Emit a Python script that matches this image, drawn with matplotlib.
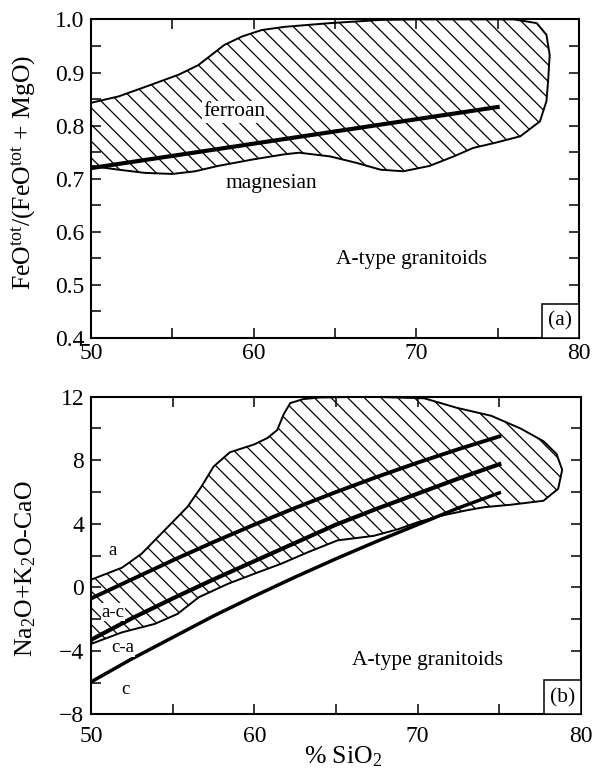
import matplotlib
matplotlib.use('Agg')
import matplotlib.pyplot as plt
from matplotlib.patches import Rectangle
from matplotlib.ticker import MultipleLocator

plt.rcParams['font.family'] = ['Liberation Serif', 'DejaVu Serif']
plt.rcParams['mathtext.fontset'] = 'custom'
plt.rcParams['mathtext.rm'] = 'Liberation Serif'
plt.rcParams['mathtext.it'] = 'Liberation Serif:italic'
plt.rcParams['hatch.linewidth'] = 0.9

# (a) Fe-number field of A-type granitoids
fe_field_sio2 = [50, 51.7, 53.7, 55.4, 56.6, 57.4, 58.2, 59.3, 60.5, 61.9, 64.7, 67.8,
                 70.0, 76.0, 77.4, 78.0, 78.2, 78.1, 78.0, 77.6, 76.4, 74.9, 73.5, 72.3,
                 70.8, 69.2, 67.8, 66.3, 64.7, 62.8, 61.9, 59.9, 57.8, 56.4, 55.0, 53.3,
                 51.7, 50]
fe_field_fe = [0.843, 0.855, 0.877, 0.896, 0.914, 0.933, 0.952, 0.968, 0.980, 0.986, 0.993, 0.999,
               1.0, 1.0, 0.993, 0.971, 0.933, 0.883, 0.846, 0.808, 0.780, 0.768, 0.758, 0.742,
               0.724, 0.714, 0.717, 0.730, 0.742, 0.749, 0.746, 0.736, 0.724, 0.714, 0.709, 0.711,
               0.717, 0.724]
# ferroan / magnesian divide
fe_line_sio2 = [50, 75]
fe_line_fe = [0.72, 0.835]

# (b) MALI field of A-type granitoids
mali_field_sio2 = [50, 51.9, 53.1, 53.9, 54.9, 55.9, 56.75, 57.5, 58.5, 60.0, 60.8, 61.4,
                   61.8, 62.2, 63.0, 64.0, 67.0, 70.4, 72.4, 74.5, 76.3, 77.7, 78.5, 78.85,
                   78.6, 77.7, 75.7, 74.1, 73.0, 71.4, 70.0, 68.8, 67.3, 65.1, 63.3, 61.65,
                   60.0, 58.4, 56.6, 55.3, 53.9, 51.9, 50]
mali_field_val = [0.48, 1.24, 2.12, 2.96, 4.01, 5.06, 6.32, 7.6, 8.5, 9.0, 9.4, 9.9,
                  10.9, 11.6, 11.85, 11.95, 12.0, 11.9, 11.3, 10.8, 10.0, 9.2, 8.4, 7.4,
                  6.2, 5.45, 5.2, 5.05, 4.85, 4.5, 4.1, 3.66, 3.24, 2.96, 2.22, 1.49,
                  0.86, 0.23, -0.62, -1.67, -2.3, -2.83, -3.56]

# alkalic / alkali-calcic / calc-alkalic / calcic boundaries
bound_sio2 = [50, 52.5, 55, 57.5, 60, 62.5, 65, 67.5, 70, 72.5, 75]
bound_a_ac = [-0.7, 0.5, 1.7, 2.85, 3.95, 5.0, 6.0, 6.95, 7.85, 8.7, 9.5]
bound_ac_ca = [-3.3, -1.95, -0.7, 0.5, 1.65, 2.8, 3.95, 4.95, 5.9, 6.85, 7.75]
bound_ca_c = [-5.95, -4.5, -3.15, -1.8, -0.55, 0.65, 1.8, 2.9, 3.95, 5.0, 5.95]

fig = plt.figure(figsize=(5.94, 7.73), dpi=100)
ax1 = fig.add_axes([0.1532, 0.5627, 0.8215, 0.4122])
ax2 = fig.add_axes([0.1532, 0.0757, 0.8249, 0.4111])


def style_axes(ax, xpad):
    ax.set_xlim(50, 80)
    ax.xaxis.set_major_locator(MultipleLocator(10))
    ax.xaxis.set_minor_locator(MultipleLocator(5))
    ax.tick_params(which='both', direction='in', top=True, right=True,
                   length=7.5, width=1.1, labelsize=17)
    ax.tick_params(axis='x', pad=xpad)
    ax.tick_params(axis='y', pad=5)
    for s in ax.spines.values():
        s.set_linewidth(1.5)


def corner_box(ax, label):
    w, h = 0.076, 0.107
    ax.add_patch(Rectangle((1 - w, 0), w, h, transform=ax.transAxes,
                           facecolor='white', edgecolor='black', linewidth=1.1, zorder=5))
    ax.text(1 - w / 2, h / 2, label, transform=ax.transAxes, ha='center', va='center',
            fontsize=15.5, zorder=6)


# ---- (a)
ax1.fill(fe_field_sio2, fe_field_fe, facecolor='none', edgecolor='black',
         hatch='\\\\', linewidth=1.4, zorder=2)
ax1.plot(fe_line_sio2, fe_line_fe, color='black', linewidth=3.0, zorder=3)
ax1.set_ylim(0.4, 1.0)
ax1.yaxis.set_major_locator(MultipleLocator(0.1))
ax1.yaxis.set_minor_locator(MultipleLocator(0.05))
ax1.yaxis.set_major_formatter(lambda v, p: f'{v:.1f}')
style_axes(ax1, 3.5)
ax1.set_ylabel(r'FeO$^{\mathrm{tot}}$/(FeO$^{\mathrm{tot}}$ + MgO)', fontsize=18.5)
ax1.yaxis.set_label_coords(-0.108, 0.52)
ax1.text(58.8, 0.826, 'ferroan', fontsize=15.5, ha='center', va='center', zorder=4,
         bbox=dict(facecolor='white', edgecolor='none', pad=1))
ax1.text(61.1, 0.691, 'magnesian', fontsize=15.5, ha='center', va='center')
ax1.text(69.7, 0.547, 'A-type granitoids', fontsize=15.5, ha='center', va='center')
corner_box(ax1, '(a)')

# ---- (b)
ax2.fill(mali_field_sio2, mali_field_val, facecolor='none', edgecolor='black',
         hatch='\\\\', linewidth=1.4, zorder=2)
ax2.plot(bound_sio2, bound_a_ac, color='black', linewidth=2.8, zorder=3)
ax2.plot(bound_sio2, bound_ac_ca, color='black', linewidth=3.0, zorder=3)
ax2.plot(bound_sio2, bound_ca_c, color='black', linewidth=2.5, zorder=3)
ax2.set_ylim(-8, 12)
ax2.yaxis.set_major_locator(MultipleLocator(4))
ax2.yaxis.set_minor_locator(MultipleLocator(2))
ax2.yaxis.set_major_formatter(lambda v, p: f'{v:.0f}'.replace('-', '\u2212'))
style_axes(ax2, 8)
ax2.set_ylabel(r'Na$_2$O+K$_2$O-CaO', fontsize=18.5)
ax2.yaxis.set_label_coords(-0.108, 0.46)
ax2.set_xlabel(r'% SiO$_2$', fontsize=18.5)
ax2.xaxis.set_label_coords(0.515, -0.095)
for txt, x, y in [('a', 51.35, 2.33), ('a-c', 51.35, -1.56), ('c-a', 51.95, -3.77), ('c', 52.1, -6.4)]:
    ax2.text(x, y, txt, fontsize=13.5, ha='center', va='center', zorder=4,
             bbox=dict(facecolor='white', edgecolor='none', pad=0.5))
ax2.text(70.6, -4.6, 'A-type granitoids', fontsize=15.5, ha='center', va='center')
corner_box(ax2, '(b)')

fig.savefig('out.png', dpi=100)
